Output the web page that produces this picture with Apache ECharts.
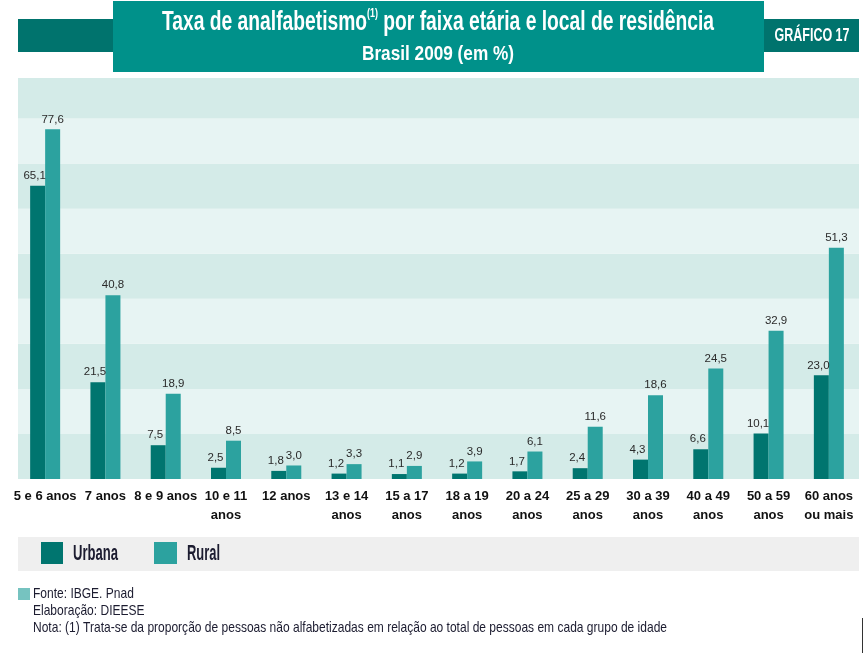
<!DOCTYPE html>
<html>
<head>
<meta charset="utf-8">
<script src="https://cdn.jsdelivr.net/npm/echarts@6/dist/echarts.min.js"></script>
<style>
html,body{margin:0;padding:0;background:#fff;}
#chart{width:867px;height:653px;}
</style>
</head>
<body>
<div id="chart"></div>
<script>
var categories = ["5 e 6 anos", "7 anos", "8 e 9 anos", "10 e 11\nanos", "12 anos", "13 e 14\nanos", "15 a 17\nanos", "18 a 19\nanos", "20 a 24\nanos", "25 a 29\nanos", "30 a 39\nanos", "40 a 49\nanos", "50 a 59\nanos", "60 anos\nou mais"];
var urbana = [65.1, 21.5, 7.5, 2.5, 1.8, 1.2, 1.1, 1.2, 1.7, 2.4, 4.3, 6.6, 10.1, 23.0];
var rural = [77.6, 40.8, 18.9, 8.5, 3.0, 3.3, 2.9, 3.9, 6.1, 11.6, 18.6, 24.5, 32.9, 51.3];
var seriesNames = ["Urbana", "Rural"];
var titleText = "Taxa de analfabetismo";
var titleSup = "(1)";
var titleText2 = " por faixa etária e local de residência";
var subtitleText = "Brasil 2009 (em %)";
var badgeText = "GRÁFICO 17";
var footerLines = ["Fonte: IBGE. Pnad", "Elaboração: DIEESE", "Nota: (1) Trata-se da proporção de pessoas não alfabetizadas em relação ao total de pessoas em cada grupo de idade"];

var FONT = '"Liberation Sans", Arial, sans-serif';
var C_URB = '#00756f', C_RUR = '#2ca29f';

var mctx = document.createElement('canvas').getContext('2d');
function measure(t, font){ mctx.font = font; return mctx.measureText(t).width; }
function fitScale(t, font, target){ return target / measure(t, font); }

var titleW = measure(titleText, 'bold 28px ' + FONT) + measure(titleSup, 'bold 13px ' + FONT) + measure(titleText2, 'bold 28px ' + FONT);
var titleScale = 552 / titleW;
var subScale = fitScale(subtitleText, 'bold 21px ' + FONT, 152);
var badgeScale = fitScale(badgeText, 'bold 18px ' + FONT, 75);
var urbScale = fitScale(seriesNames[0], 'bold 22px ' + FONT, 45);
var rurScale = fitScale(seriesNames[1], 'bold 22px ' + FONT, 33);
var footScale = fitScale(footerLines[2], '15px ' + FONT, 634);

var chart = echarts.init(document.getElementById('chart'), null, {renderer: 'canvas'});
function fmt(p){ return p.value.toFixed(1).replace('.', ','); }
function labelCfg(dx){ return {show: true, position: 'top', distance: 4, offset: [dx, 0], formatter: fmt, fontFamily: FONT, fontSize: 11.5, color: '#2a2a2a'}; }

var footerGraphics = footerLines.map(function(t, i){
  return {type: 'text', x: 33, y: 594 + i * 17, scaleX: footScale, style: {text: t, verticalAlign: 'middle', fontFamily: FONT, fontSize: 15, fill: '#1c1c30'}};
});

chart.setOption({
  animation: false,
  grid: {left: 15, right: 8, top: 78, bottom: 174},
  xAxis: {
    type: 'category', data: categories,
    axisLine: {show: false}, axisTick: {show: false},
    axisLabel: {interval: 0, margin: 8, fontFamily: FONT, fontWeight: 'bold', fontSize: 13, lineHeight: 19, color: '#111'}
  },
  yAxis: {
    type: 'value', min: 0, max: 89, interval: 10,
    axisLabel: {show: false}, axisLine: {show: false}, axisTick: {show: false},
    splitLine: {show: false},
    splitArea: {show: true, areaStyle: {color: ['#d4ebe8', '#e7f4f3']}}
  },
  series: [
    {name: seriesNames[0], type: 'bar', data: urbana, barWidth: 15, barGap: '0%', itemStyle: {color: C_URB}, label: labelCfg(-3)},
    {name: seriesNames[1], type: 'bar', data: rural, barWidth: 15, barGap: '0%', itemStyle: {color: C_RUR}, label: labelCfg(0)}
  ],
  graphic: [
    {type: 'rect', z: 1, shape: {x: 14, y: 70, width: 4, height: 412}, style: {fill: '#fff'}},
    {type: 'rect', z: 1, shape: {x: 18, y: 537, width: 841, height: 34}, style: {fill: '#efefef'}},
    {type: 'rect', z: 2, shape: {x: 41, y: 542, width: 22, height: 22}, style: {fill: C_URB}},
    {type: 'rect', z: 2, shape: {x: 154, y: 542, width: 23, height: 22}, style: {fill: C_RUR}},
    {type: 'text', z: 2, x: 73, y: 554, scaleX: urbScale, style: {text: seriesNames[0], verticalAlign: 'middle', fontFamily: FONT, fontWeight: 'bold', fontSize: 22, fill: '#1c1c30'}},
    {type: 'text', z: 2, x: 187, y: 554, scaleX: rurScale, style: {text: seriesNames[1], verticalAlign: 'middle', fontFamily: FONT, fontWeight: 'bold', fontSize: 22, fill: '#1c1c30'}},
    {type: 'rect', z: 1, shape: {x: 18, y: 19, width: 95, height: 33}, style: {fill: '#00736d'}},
    {type: 'rect', z: 1, shape: {x: 764, y: 19, width: 95, height: 33}, style: {fill: '#00736d'}},
    {type: 'rect', z: 2, shape: {x: 113, y: 1, width: 651, height: 71}, style: {fill: '#00918a'}},
    {type: 'text', z: 3, x: 438, y: 22, scaleX: titleScale, style: {
      text: '{t|' + titleText + '}{s|' + titleSup + '}{t|' + titleText2 + '}', align: 'center', verticalAlign: 'middle',
      rich: {t: {fontFamily: FONT, fontWeight: 'bold', fontSize: 28, fill: '#fff', lineHeight: 30},
             s: {fontFamily: FONT, fontWeight: 'bold', fontSize: 13, fill: '#fff', lineHeight: 14, verticalAlign: 'top'}}
    }},
    {type: 'text', z: 3, x: 438, y: 54, scaleX: subScale, style: {text: subtitleText, align: 'center', verticalAlign: 'middle', fontFamily: FONT, fontWeight: 'bold', fontSize: 21, fill: '#fff'}},
    {type: 'text', z: 3, x: 812, y: 36, scaleX: badgeScale, style: {text: badgeText, align: 'center', verticalAlign: 'middle', fontFamily: FONT, fontWeight: 'bold', fontSize: 18, fill: '#fff'}},
    {type: 'rect', shape: {x: 18, y: 588, width: 12, height: 12}, style: {fill: '#76c3c0'}},
    {type: 'rect', shape: {x: 862, y: 618, width: 1, height: 35}, style: {fill: '#333'}}
  ].concat(footerGraphics)
});
</script>
</body>
</html>
